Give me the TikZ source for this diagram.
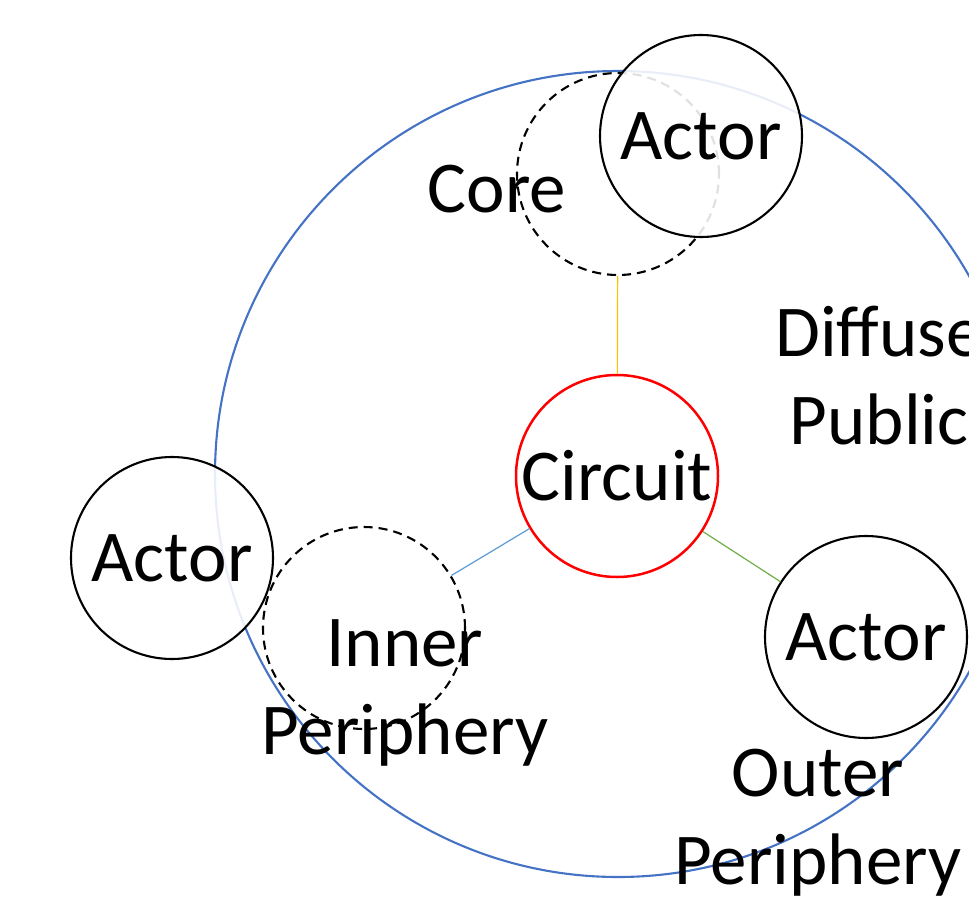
\documentclass[tikz,border=0pt]{standalone}
\usepackage{fontspec}
\setmainfont{Carlito}
\definecolor{pubblue}{RGB}{68,114,196}
\definecolor{circred}{RGB}{255,0,0}
\definecolor{linegold}{RGB}{255,192,0}
\definecolor{lineblue}{RGB}{91,155,213}
\definecolor{linegreen}{RGB}{112,173,71}
\begin{document}
\begin{tikzpicture}[x=1pt,y=-1pt,
  big/.style={font=\fontsize{73}{88}\selectfont},
  ring/.style={circle, minimum size=202pt, inner sep=0pt, big},
  actor/.style={ring, draw=black, line width=2.1pt, fill=white, fill opacity=0.88, text opacity=1},
  dashring/.style={ring, draw=black, line width=2.1pt, dash pattern=on 9pt off 6pt},
  lbl/.style={big, align=center, inner sep=0pt}]
\useasboundingbox (0,0) rectangle (969,905);
% outer public circle
\node[circle, draw=pubblue, line width=2.1pt, minimum size=806pt, inner sep=0pt] (public) at (618,474) {};
% core and inner periphery
\node[dashring] (core) at (618,174) {};
\node[dashring] (inner) at (364,628) {};
% circuit
\node[ring, draw=circred, line width=2.5pt] (circuit) at (617,476) {Circuit};
% actors
\node[actor] (actorT) at (701,136) {Actor};
\node[actor] (actorL) at (172,558) {Actor};
\node[actor] (actorR) at (866,637) {Actor};
% connectors
\draw[linegold, line width=1.2pt] (circuit) -- (core);
\draw[lineblue, line width=1.2pt] (circuit) -- (inner);
\draw[linegreen, line width=1.2pt] (circuit) -- (actorR);
% labels
\node[lbl] (corelbl) at (497,189) {Core};
\node[lbl] (difflbl) at (879,376) {Diffuse\\Public};
\node[lbl] (innerlbl) at (405,693) {Inner\\Periphery};
\node[lbl] (outerlbl) at (818,823) {Outer\\Periphery};
\end{tikzpicture}
\end{document}
